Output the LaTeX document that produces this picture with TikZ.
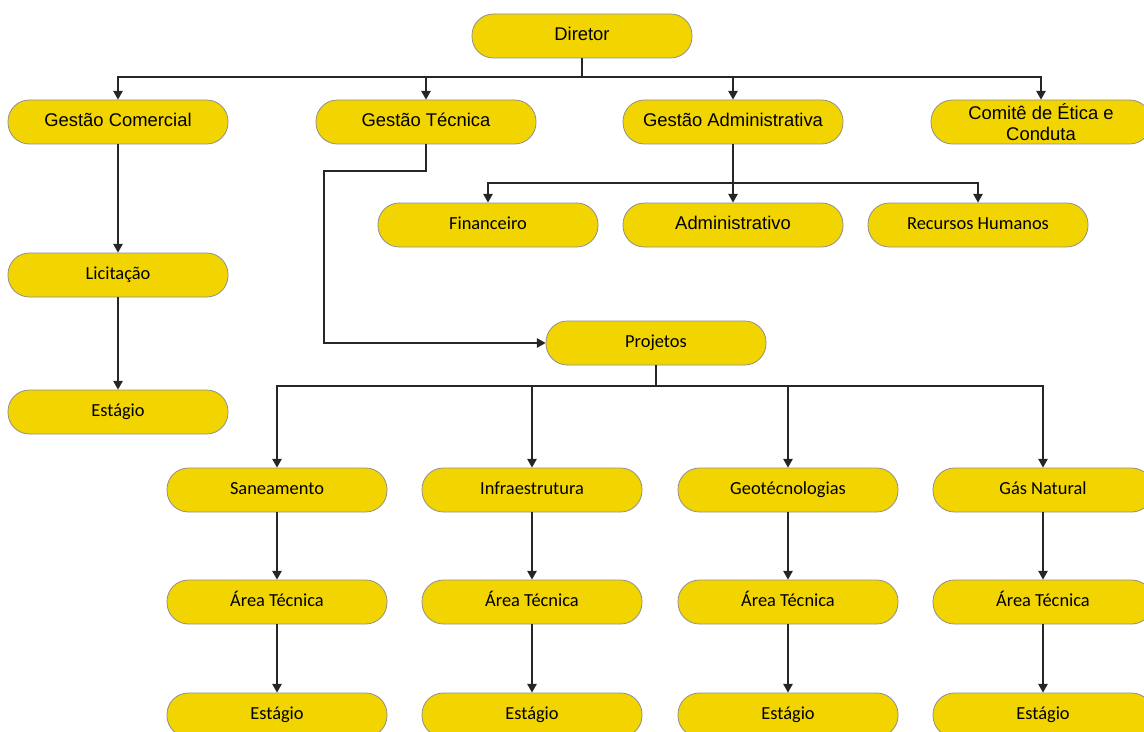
\documentclass[tikz,border=0pt]{standalone}
\usepackage{fontspec}
\newfontfamily\arialf{Liberation Sans}
\newfontfamily\calibrif{Carlito}
\usetikzlibrary{arrows.meta}
\definecolor{boxfill}{HTML}{F2D500}
\definecolor{boxline}{HTML}{8F8F8F}
\tikzset{
  orgbox/.style={draw=boxline, line width=0.6pt, fill=boxfill, rounded corners=16pt,
    minimum width=165pt, minimum height=33pt, inner sep=1pt, align=center, text=black},
  abox/.style={orgbox, font=\arialf\fontsize{13.8}{15.5}\selectfont, text height=2ex, text depth=0.5ex},
  cbox/.style={orgbox, font=\calibrif\fontsize{13.8}{15.5}\selectfont, text height=2ex, text depth=0.5ex},
  twoline/.style={orgbox, font=\arialf\fontsize{13.8}{16}\selectfont},
  conn/.style={line width=1pt, draw=black!85},
  arr/.style={conn, -{Triangle[width=7pt,length=6.5pt]}}
}
\begin{document}
\begin{tikzpicture}[x=0.75pt,y=-0.75pt]
\useasboundingbox (0,0) rectangle (1144,731);
% top level
\node[abox] (dir) at (582,36) {Diretor};
\node[abox] (gc) at (118,122) {Gestão Comercial};
\node[abox] (gt) at (426,122) {Gestão Técnica};
\node[abox] (ga) at (733,122) {Gestão Administrativa};
\node[twoline] (com) at (1041,122) {Comitê de Ética e\\Conduta};
% administrativa
\node[cbox] (fin) at (488,225) {Financeiro};
\node[abox] (adm) at (733,225) {Administrativo};
\node[cbox] (rh) at (978,225) {Recursos Humanos};
% comercial
\node[cbox] (lic) at (118,275) {Licitação};
\node[cbox] (est0) at (118,412) {Estágio};
% projetos
\node[cbox] (proj) at (656,343) {Projetos};
\node[cbox] (san) at (277,490) {Saneamento};
\node[cbox] (inf) at (532,490) {Infraestrutura};
\node[cbox] (geo) at (788,490) {Geotécnologias};
\node[cbox] (gas) at (1043,490) {Gás Natural};
\node[cbox] (at1) at (277,602) {Área Técnica};
\node[cbox] (at2) at (532,602) {Área Técnica};
\node[cbox] (at3) at (788,602) {Área Técnica};
\node[cbox] (at4) at (1043,602) {Área Técnica};
\node[cbox] (es1) at (277,715) {Estágio};
\node[cbox] (es2) at (532,715) {Estágio};
\node[cbox] (es3) at (788,715) {Estágio};
\node[cbox] (es4) at (1043,715) {Estágio};
% bus coordinates
\coordinate (b1) at (0,77);
\coordinate (b2) at (0,183);
\coordinate (b3) at (0,386);
\coordinate (tk) at (324,171);
% connectors
\foreach \c in {gc,gt,ga,com}
  \draw[arr] (dir.south) -- (dir.south |- b1) -| (\c.north);
\foreach \c in {fin,adm,rh}
  \draw[arr] (ga.south) -- (ga.south |- b2) -| (\c.north);
\foreach \c in {san,inf,geo,gas}
  \draw[arr] (proj.south) -- (proj.south |- b3) -| (\c.north);
\draw[arr] (gt.south) |- (tk) |- (proj.west);
\draw[arr] (gc.south) -- (lic.north);
\draw[arr] (lic.south) -- (est0.north);
\draw[arr] (san.south) -- (at1.north);
\draw[arr] (inf.south) -- (at2.north);
\draw[arr] (geo.south) -- (at3.north);
\draw[arr] (gas.south) -- (at4.north);
\draw[arr] (at1.south) -- (es1.north);
\draw[arr] (at2.south) -- (es2.north);
\draw[arr] (at3.south) -- (es3.north);
\draw[arr] (at4.south) -- (es4.north);
\end{tikzpicture}
\end{document}
